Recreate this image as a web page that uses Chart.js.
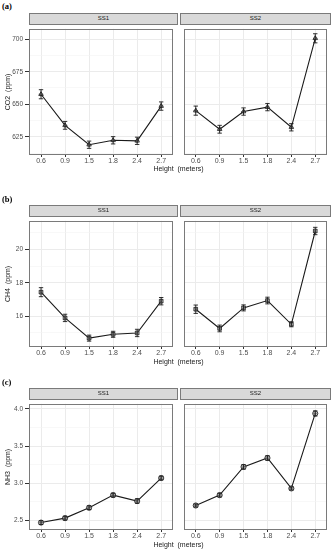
<!DOCTYPE html>
<html><head><meta charset="utf-8">
<script src="https://cdn.jsdelivr.net/npm/chart.js@4/dist/chart.umd.min.js"></script>
<style>
html,body{margin:0;padding:0;background:#fff;width:333px;height:550px;overflow:hidden;position:relative;font-family:"Liberation Sans",Arial,sans-serif}
canvas{position:absolute}
.strip{position:absolute;background:#D9D9D9;border:1px solid #7a7a7a;box-sizing:border-box;font-size:6px;color:#1a1a1a;text-align:center;line-height:9px}
.lab{position:absolute;left:2px;font-family:"Liberation Serif",serif;font-weight:bold;font-size:8.5px;color:#000;line-height:10px}
.xt{position:absolute;left:128px;width:101px;text-align:center;font-size:7px;color:#1a1a1a;line-height:9px;white-space:pre}
</style>
</head><body>
<script>
// ---- data ----
const heights = ['0.6','0.9','1.5','1.8','2.4','2.7'];
const sites = ['SS1','SS2'];
const panelLetters = ['(a)','(b)','(c)'];
const yTitles = ['CO2  (ppm)','CH4  (ppm)','NH3  (ppm)'];
const xTitle = 'Height  (meters)';

const co2SS1 = [657.7, 633.8, 618.9, 622.3, 621.9, 648.6];
const co2SS2 = [645.1, 630.8, 644.4, 647.8, 632.3, 700.7];
const co2ErrSS1 = [3.5, 3.0, 2.8, 2.8, 2.8, 3.2];
const co2ErrSS2 = [3.5, 3.0, 2.8, 2.8, 2.8, 3.5];

const ch4SS1 = [17.44, 15.90, 14.69, 14.92, 15.00, 16.90];
const ch4SS2 = [16.42, 15.27, 16.50, 16.94, 15.52, 21.10];
const ch4ErrSS1 = [0.27, 0.22, 0.18, 0.18, 0.22, 0.22];
const ch4ErrSS2 = [0.25, 0.20, 0.18, 0.20, 0.15, 0.22];

const nh3SS1 = [2.47, 2.53, 2.67, 2.84, 2.76, 3.07];
const nh3SS2 = [2.70, 2.84, 3.22, 3.34, 2.93, 3.94];
const nh3ErrSS1 = [0.025, 0.025, 0.025, 0.025, 0.03, 0.025];
const nh3ErrSS2 = [0.02, 0.025, 0.03, 0.03, 0.02, 0.035];

const co2Ticks = [625, 650, 675, 700];
const co2TickLabels = ['625', '650', '675', '700'];
const ch4Ticks = [16, 18, 20];
const ch4TickLabels = ['16', '18', '20'];
const nh3Ticks = [2.5, 3.0, 3.5, 4.0];
const nh3TickLabels = ['2.5', '3.0', '3.5', '4.0'];

const co2Range = [611, 708];
const ch4Range = [14.16, 21.71];
const nh3Range = [2.37, 4.07];

// ---- layout ----
const rows = [
  {top:24, stripTop:13, labY:1, xtY:164, values:[co2SS1,co2SS2], errs:[co2ErrSS1,co2ErrSS2], ticks:co2Ticks, labels:co2TickLabels, range:co2Range, style:'triangle'},
  {top:216, stripTop:205, labY:194, xtY:357, values:[ch4SS1,ch4SS2], errs:[ch4ErrSS1,ch4ErrSS2], ticks:ch4Ticks, labels:ch4TickLabels, range:ch4Range, style:'rect'},
  {top:399, stripTop:388, labY:377, xtY:540, values:[nh3SS1,nh3SS2], errs:[nh3ErrSS1,nh3ErrSS2], ticks:nh3Ticks, labels:nh3TickLabels, range:nh3Range, style:'circle'}
];
const PLOT_H = 131, XAX_H = 12;
const FONT = '"Liberation Sans", Arial, sans-serif';

const errorBars = {
  id:'errorBars',
  afterDatasetsDraw(chart){
    const ds = chart.data.datasets[0];
    const err = ds.errors; if(!err) return;
    const xs = chart.scales.x, ys = chart.scales.y, ctx = chart.ctx;
    ctx.save(); ctx.strokeStyle = '#1a1a1a'; ctx.lineWidth = 0.9;
    ds.data.forEach((v,i)=>{
      const px = xs.getPixelForValue(i);
      const t = ys.getPixelForValue(v + err[i]), b = ys.getPixelForValue(v - err[i]);
      ctx.beginPath();
      ctx.moveTo(px,t); ctx.lineTo(px,b);
      ctx.moveTo(px-2.2,t); ctx.lineTo(px+2.2,t);
      ctx.moveTo(px-2.2,b); ctx.lineTo(px+2.2,b);
      ctx.stroke();
    });
    ctx.restore();
  }
};
const panelBorder = {
  id:'panelBorder',
  afterDraw(chart){
    const a = chart.chartArea, ctx = chart.ctx;
    ctx.save(); ctx.strokeStyle = '#7a7a7a'; ctx.lineWidth = 1;
    ctx.strokeRect(Math.round(a.left)+0.5, Math.round(a.top)+0.5, Math.round(a.right-a.left)-1, Math.round(a.bottom-a.top)-1);
    ctx.restore();
  }
};

function addDiv(cls, css, text){
  const d = document.createElement('div'); d.className = cls; d.style.cssText = css; d.textContent = text;
  document.body.appendChild(d); return d;
}

function makePanel(row, r, side){
  const left = side === 0;
  const cv = document.createElement('canvas');
  const W = left ? 178 : 153;
  const H = PLOT_H + XAX_H;
  cv.width = W; cv.height = H;
  cv.style.cssText = `left:${left?0:179}px;top:${row.top}px;width:${W}px;height:${H}px`;
  document.body.appendChild(cv);
  const majors = row.ticks;
  const step = majors[1] - majors[0];
  const all = [];
  majors.forEach(v => all.push(v));
  for (let k = -1; k < majors.length; k++) {
    const m = (k < 0 ? majors[0] - step/2 : majors[k] + step/2);
    if (m > row.range[0] && m < row.range[1]) all.push(m);
  }
  all.sort((a,b)=>a-b);
  const isMajor = v => majors.some(m => Math.abs(m - v) < 1e-9);
  const vals = row.values[side];
  new Chart(cv, {
    type:'line',
    data:{
      labels: heights,
      datasets:[
        {data: vals, errors: row.errs[side], borderColor:'#1a1a1a', borderWidth:1.1, pointStyle: row.style,
         pointRadius: 2.6, pointBackgroundColor:'rgba(160,160,160,0.6)', pointBorderColor:'#1a1a1a', pointBorderWidth:0.8, tension:0},
        {data: vals, showLine:false, pointStyle: row.style === 'rect' ? 'crossRot' : 'cross', pointRadius: 2.2,
         pointBorderColor:'#1a1a1a', pointBorderWidth:0.7, pointBackgroundColor:'transparent'}
      ]
    },
    options:{
      responsive:false, animation:false, devicePixelRatio:1,
      layout:{padding:{left:0, right: left ? 1 : 2, top:0, bottom:0}},
      plugins:{legend:{display:false}, tooltip:{enabled:false}},
      scales:{
        x:{
          type:'category', offset:true,
          afterFit: s => { s.height = XAX_H; s.paddingLeft = 0; s.paddingRight = 0; },
          ticks:{color:'#4D4D4D', font:{size:7, family:FONT}, padding:0, maxRotation:0, autoSkip:false},
          grid:{color:'#EBEBEB', lineWidth:1, tickColor:'#333333', tickLength:2, offset:false},
          border:{display:false}
        },
        y:{
          min: row.range[0], max: row.range[1],
          afterBuildTicks: s => { s.ticks = all.map(v => ({value:v})); },
          afterFit: s => { s.width = left ? 29 : 1; s.paddingTop = 0; s.paddingBottom = 0; },
          ticks:{display:left, color:'#4D4D4D', font:{size:6.5, family:FONT}, padding:2, autoSkip:false,
                 callback: v => { const i = majors.findIndex(m => Math.abs(m - v) < 1e-9); return i >= 0 ? row.labels[i] : ''; }},
          grid:{
            color: c => (c.tick && isMajor(c.tick.value)) ? '#EBEBEB' : '#F4F4F4',
            lineWidth: c => (c.tick && isMajor(c.tick.value)) ? 1 : 0.6,
            tickColor: c => (c.tick && isMajor(c.tick.value)) ? '#333333' : 'rgba(0,0,0,0)',
            tickLength: 4, drawTicks: left
          },
          border:{display:false},
          title:{display:left, text: yTitles[r], color:'#1a1a1a', font:{size:7, family:FONT}, padding:{top:3.5, bottom:0}}
        }
      }
    },
    plugins:[errorBars, panelBorder]
  });
}

rows.forEach((row, r) => {
  addDiv('lab', `top:${row.labY}px`, panelLetters[r]);
  addDiv('strip', `left:29px;top:${row.stripTop}px;width:149px;height:12px`, sites[0]);
  addDiv('strip', `left:180px;top:${row.stripTop}px;width:151px;height:12px`, sites[1]);
  makePanel(row, r, 0);
  makePanel(row, r, 1);
  addDiv('xt', `top:${row.xtY}px`, xTitle);
});
</script>
</body></html>
